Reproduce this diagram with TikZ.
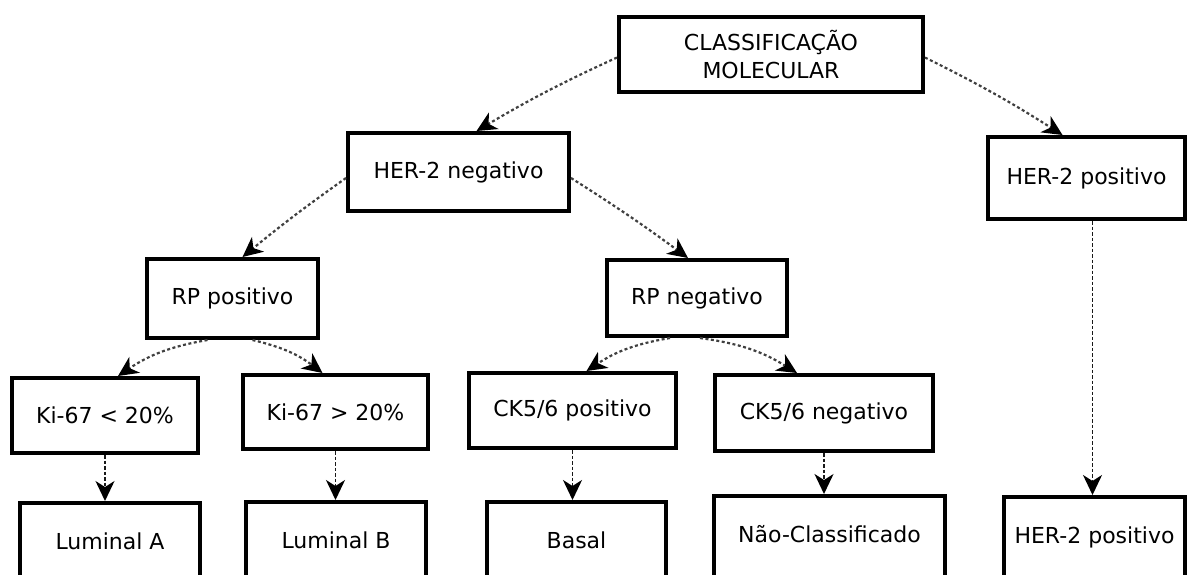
\documentclass[tikz,border=0pt]{standalone}
\usepackage{fontspec}
\setmainfont{DejaVu Sans}
\usetikzlibrary{arrows.meta}

\tikzset{
	caixa/.style={draw, line width=4pt, inner sep=0pt, font=\fontsize{22}{28}\selectfont},
	caixafim/.style={caixa, anchor=north, text height=46pt, text depth=90pt},
	seta/.style={black!75, line width=2.2pt, dash pattern=on 3pt off 2.5pt, -{Stealth[length=20pt,width=19pt,inset=6pt,color=black]}},
	setav/.style={seta, black!90, line width=1.8pt, dash pattern=on 3.5pt off 2pt}
}

\begin{document}
\begin{tikzpicture}[x=1pt,y=-1pt]
	\useasboundingbox (0,0) rectangle (1190,574);
	\clip (0,0) rectangle (1190,574);

	% nivel 0
	\node[caixa, align=center, minimum width=304pt, minimum height=75pt] (cls) at (771,54.5) {CLASSIFICAÇÃO\\MOLECULAR};

	% nivel 1
	\node[caixa, minimum width=221pt, minimum height=78pt] (hneg) at (458.5,172) {HER-2 negativo};
	\node[caixa, minimum width=197pt, minimum height=82pt] (hpos) at (1086.5,178) {HER-2 positivo};

	% nivel 2
	\node[caixa, minimum width=171pt, minimum height=79pt] (rppos) at (232.5,298.5) {RP positivo};
	\node[caixa, minimum width=180pt, minimum height=76pt] (rpneg) at (697,298) {RP negativo};

	% nivel 3
	\node[caixa, minimum width=186pt, minimum height=75pt] (kimenor) at (105,415.5) {Ki-67 < 20\%};
	\node[caixa, minimum width=185pt, minimum height=74pt] (kimaior) at (335.5,412) {Ki-67 > 20\%};
	\node[caixa, minimum width=207pt, minimum height=75pt] (ckpos) at (572.5,410.5) {CK5/6 positivo};
	\node[caixa, minimum width=218pt, minimum height=76pt] (ckneg) at (824,413) {CK5/6 negativo};

	% nivel 4 (cortado em baixo)
	\node[caixafim, minimum width=180pt] (luma) at (110,501) {Luminal A};
	\node[caixafim, minimum width=180pt] (lumb) at (336,500) {Luminal B};
	\node[caixafim, minimum width=179pt] (basal) at (576.5,500) {Basal};
	\node[caixafim, minimum width=231pt] (naocl) at (829.5,494) {Não-Classificado};
	\node[caixafim, minimum width=181pt] (hposfim) at (1094.5,495) {HER-2 positivo};

	% setas
	\draw[seta] ([yshift=-3pt]cls.west) to[bend right=3] ([xshift=18pt]hneg.north);
	\draw[seta] ([yshift=-3pt]cls.east) to[bend left=3] ([xshift=-24pt]hpos.north);
	\draw[seta] ([yshift=-6pt]hneg.west) to[bend right=2] ([xshift=10pt]rppos.north);
	\draw[seta] ([yshift=-6pt]hneg.east) to[bend left=2] ([xshift=-9pt]rpneg.north);
	\draw[seta] ([xshift=-25pt]rppos.south) to[bend right=12] ([xshift=13pt]kimenor.north);
	\draw[seta] ([xshift=20pt]rppos.south) to[bend left=12] ([xshift=-13pt]kimaior.north);
	\draw[seta] ([xshift=-27pt]rpneg.south) to[bend right=12] ([xshift=14pt]ckpos.north);
	\draw[seta] ([xshift=3pt]rpneg.south) to[bend left=12] ([xshift=-27pt]ckneg.north);

	\draw[setav] (kimenor.south) -- (kimenor.south |- luma.north);
	\draw[setav] (kimaior.south) -- (kimaior.south |- lumb.north);
	\draw[setav] (ckpos.south) -- (ckpos.south |- basal.north);
	\draw[setav] (ckneg.south) -- (ckneg.south |- naocl.north);
	\draw[setav] ([xshift=6pt]hpos.south) -- ([xshift=6pt]hpos.south |- hposfim.north);
\end{tikzpicture}
\end{document}
